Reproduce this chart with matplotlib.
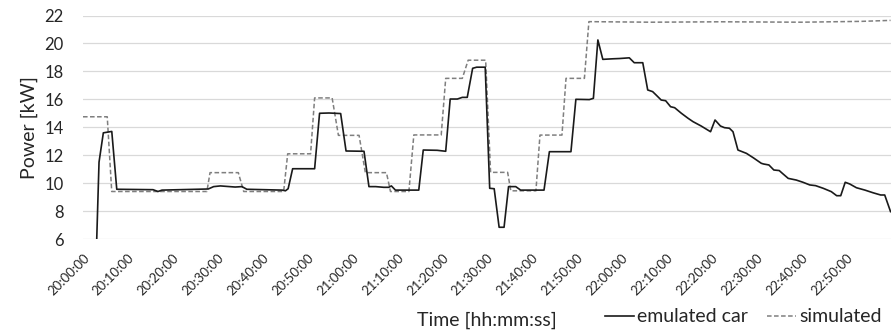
import matplotlib
matplotlib.use("Agg")
import matplotlib.pyplot as plt
from matplotlib.ticker import FixedLocator, FuncFormatter

plt.rcParams['font.family'] = ['Lato', 'DejaVu Sans']

# minutes after 20:00:00
emu_t = [3.06, 3.57, 4.53, 6.41, 7.52, 15.6, 16.7, 17.6, 27.9, 29.1, 30.6, 33.9, 35.4, 36.5,
         44.4, 45.1, 45.7, 46.7, 51.6, 52.7, 54.8, 57.4, 58.6, 62.6, 63.7, 65.2, 67.0, 68.1,
         68.7, 69.6, 74.8, 75.8, 78.9, 80.8, 81.8, 83.4, 84.5, 85.6, 86.8, 87.7, 89.6, 90.6,
         91.6, 92.7, 93.8, 94.8, 96.4, 97.5, 102.7, 103.9, 108.7, 109.8, 112.8, 113.7, 114.7,
         115.8, 118.0, 119.5, 121.7, 122.8, 124.7, 125.8, 126.9, 127.7, 128.8, 129.8, 130.9,
         131.8, 133.3, 134.8, 135.9, 137.7, 139.8, 140.8, 142.0, 142.9, 144.0, 144.8, 145.9,
         147.8, 149.3, 151.1, 151.6, 152.8, 153.9, 155.1, 155.8, 157.1, 158.9, 160.4, 161.9,
         163.2, 164.9, 166.7, 167.9, 168.8, 169.8, 170.8, 172.3, 174.2, 176.0, 177.7, 178.6,
         179.9]
emu_p = [6.0, 11.5, 13.6, 13.7, 9.56, 9.53, 9.4, 9.5, 9.58, 9.75, 9.8, 9.72, 9.75, 9.56,
         9.5, 9.45, 9.6, 11.03, 11.03, 15.0, 15.02, 14.98, 12.3, 12.28, 9.75, 9.75, 9.7, 9.7,
         9.8, 9.5, 9.5, 12.37, 12.35, 12.28, 16.02, 16.02, 16.14, 16.14, 18.22, 18.3, 18.3, 9.63,
         9.6, 6.84, 6.84, 9.75, 9.75, 9.5, 9.5, 12.25, 12.25, 16.0, 15.98, 16.07, 20.25,
         18.86, 18.9, 18.92, 18.97, 18.62, 18.62, 16.67, 16.55, 16.3, 15.95, 15.9, 15.47,
         15.4, 15.0, 14.64, 14.4, 14.09, 13.68, 14.52, 14.09, 13.97, 13.93, 13.68, 12.37,
         12.13, 11.82, 11.42, 11.37, 11.3, 10.94, 10.9, 10.7, 10.34, 10.22, 10.06, 9.87,
         9.82, 9.63, 9.39, 9.1, 9.1, 10.06, 9.94, 9.67, 9.5, 9.31, 9.15, 9.15,
         7.96]

sim_t = [0.0, 5.4, 6.4, 27.6, 28.3, 34.6, 35.8, 44.7, 45.6, 50.7, 51.6, 55.5, 56.9, 61.5,
         62.9, 67.6, 68.5, 72.6, 73.7, 79.8, 80.8, 84.5, 85.8, 89.7, 90.8, 94.6, 95.3, 100.9,
         101.8, 106.7, 107.6, 111.7, 112.7, 126.6, 142.2, 160.0, 173.4, 179.9]
sim_p = [14.75, 14.75, 9.4, 9.4, 10.75, 10.75, 9.4, 9.4, 12.1, 12.1, 16.1, 16.1, 13.42, 13.42,
         10.75, 10.75, 9.4, 9.4, 13.45, 13.45, 17.5, 17.5, 18.8, 18.8, 10.77, 10.77, 9.45, 9.45,
         13.44, 13.44, 17.5, 17.5, 21.56, 21.52, 21.55, 21.52, 21.58, 21.65]

tick_minutes = list(range(0, 180, 10))
y_ticks = list(range(6, 23, 2))

fig = plt.figure(figsize=(8.94, 3.32), dpi=100)
ax = fig.add_axes([83/894, 1-239/332, 808/894, 223.5/332])

ax.plot(emu_t, emu_p, color='#1a1a1a', lw=1.2, label='emulated car', zorder=3)
ax.plot(sim_t, sim_p, color='#7f7f7f', lw=1.1, ls=(0, (3, 1.6)), label='simulated', zorder=2)

ax.set_xlim(0, 180)
ax.set_ylim(6, 22)
ax.yaxis.set_major_locator(FixedLocator(y_ticks))
ax.xaxis.set_major_locator(FixedLocator(tick_minutes))
ax.xaxis.set_major_formatter(FuncFormatter(
    lambda v, p: f"{20 + int(v) // 60:02d}:{int(v) % 60:02d}:00"))

ax.grid(axis='y', color='#d9d9d9', lw=0.9)
ax.set_axisbelow(True)
for s in ax.spines.values():
    s.set_visible(False)

ax.tick_params(axis='y', length=0, pad=14, labelsize=12, labelcolor='#262626')
ax.tick_params(axis='x', length=0, pad=9, labelsize=9.5, labelcolor='#262626')
for lab in ax.get_xticklabels():
    lab.set_rotation(45)
    lab.set_ha('right')
    lab.set_va('top')
    lab.set_rotation_mode('anchor')

ax.set_ylabel('Power [kW]', fontsize=14, color='#262626')
ax.yaxis.set_label_coords(-0.066, 0.5)
ax.yaxis.label.set_va('center')
ax.set_xlabel('Time [hh:mm:ss]', fontsize=14, color='#262626')
ax.xaxis.set_label_coords(0.5, -0.362)
ax.xaxis.label.set_va('center')

leg = fig.legend(loc='center', bbox_to_anchor=(743/894, 1-317/332), ncol=2, frameon=False,
                 fontsize=14, handlelength=1.5, handletextpad=0.15, columnspacing=1.0,
                 labelcolor='#262626', borderpad=0)

fig.savefig('out.png', dpi=100)
